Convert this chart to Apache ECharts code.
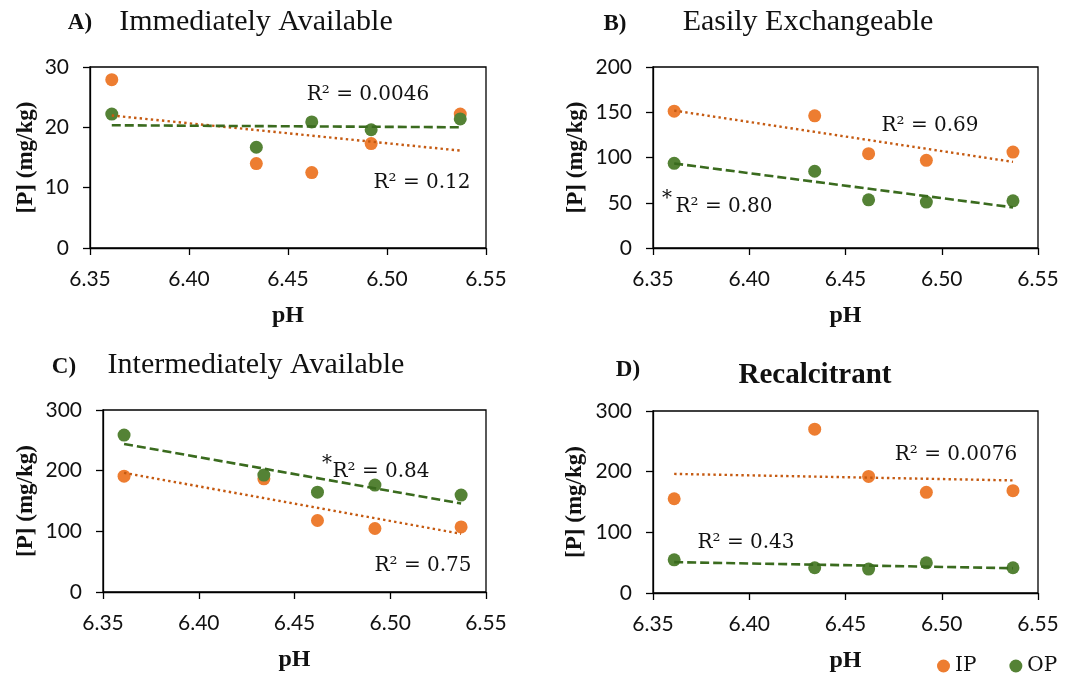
<!DOCTYPE html>
<html>
<head>
<meta charset="utf-8">
<script src="https://cdn.jsdelivr.net/npm/echarts@6/dist/echarts.min.js"></script>
<style>
  html, body { margin: 0; padding: 0; background: #fff; }
  #chart { width: 1065px; height: 675px; }
</style>
</head>
<body>
<div id="chart"></div>
<script>
// Soil pH of the five sites
const pH = [6.361, 6.434, 6.462, 6.492, 6.537];

// Phosphorus pools, inorganic (IP) and organic (OP), mg/kg
const immediateIP = [27.9, 14.0, 12.5, 17.3, 22.2];
const immediateOP = [22.2, 16.7, 20.9, 19.6, 21.4];
const exchangeIP = [151.2, 146.0, 104.2, 96.9, 106.0];
const exchangeOP = [93.6, 84.8, 53.2, 50.7, 52.1];
const intermediateIP = [191.0, 186.6, 117.9, 104.7, 107.3];
const intermediateOP = [258.7, 192.7, 164.6, 176.2, 159.7];
const recalcitrantIP = [155.4, 270.0, 192.2, 166.0, 168.6];
const recalcitrantOP = [54.7, 41.6, 39.4, 49.8, 41.6];

// Panel letters, titles and y-axis ranges
const panelLetters = ['A)', 'B)', 'C)', 'D)'];
const panelTitles = ['Immediately Available', 'Easily Exchangeable', 'Intermediately Available', 'Recalcitrant'];
const yMax = [30, 200, 300, 300];
const yStep = [10, 50, 100, 100];

// Coefficient of determination labels for each fit (IP, OP); '*' marks significant fits
const r2IP = ['R\u00B2 = 0.12', 'R\u00B2 = 0.69', 'R\u00B2 = 0.75', 'R\u00B2 = 0.0076'];
const r2OP = ['R\u00B2 = 0.0046', 'R\u00B2 = 0.80', 'R\u00B2 = 0.84', 'R\u00B2 = 0.43'];
const sigOP = [false, true, true, false];

const ipSets = [immediateIP, exchangeIP, intermediateIP, recalcitrantIP];
const opSets = [immediateOP, exchangeOP, intermediateOP, recalcitrantOP];

const ORANGE = '#ED7D31';
const GREEN = '#548235';
const IP_TREND = '#C55A11';
const OP_TREND = '#3A6B1E';
const SERIF = '"Liberation Serif", "Times New Roman", serif';
const WIDE_SERIF = '"DejaVu Serif", serif';
const SANS = 'Lato, "Open Sans", sans-serif';
const INK = '#111';

// Least-squares line through the points, drawn across the data range
function trend(xs, ys) {
  const n = xs.length;
  const mx = xs.reduce((a, b) => a + b, 0) / n;
  const my = ys.reduce((a, b) => a + b, 0) / n;
  let sxy = 0, sxx = 0;
  for (let i = 0; i < n; i++) {
    sxy += (xs[i] - mx) * (ys[i] - my);
    sxx += (xs[i] - mx) * (xs[i] - mx);
  }
  const b = sxy / sxx;
  const a = my - b * mx;
  const x0 = Math.min(...xs), x1 = Math.max(...xs);
  return [[x0, a + b * x0], [x1, a + b * x1]];
}

// Plot-area boxes for the 2x2 layout
const grids = [
  { left: 90, top: 67, width: 396, height: 181 },
  { left: 653, top: 67, width: 385, height: 181 },
  { left: 103, top: 410, width: 383, height: 182 },
  { left: 653, top: 411, width: 385, height: 182 }
];
const yNameGap = [52, 65, 65, 66];

const xAxes = [], yAxes = [], series = [];
grids.forEach((g, i) => {
  xAxes.push({
    gridIndex: i, type: 'value', min: 6.35, max: 6.55, interval: 0.05,
    name: 'pH', nameLocation: 'middle', nameGap: 56,
    nameTextStyle: { fontFamily: SERIF, fontWeight: 'bold', fontSize: 24, color: INK },
    axisLine: { lineStyle: { color: '#000', width: 1.3 } },
    axisTick: { show: true, length: 7, lineStyle: { color: '#000', width: 1.3 } },
    axisLabel: { fontFamily: SANS, fontSize: 21, color: INK, margin: 21,
                 formatter: v => v.toFixed(2) },
    splitLine: { show: false }
  });
  yAxes.push({
    gridIndex: i, type: 'value', min: 0, max: yMax[i], interval: yStep[i],
    name: '[P] (mg/kg)', nameLocation: 'middle', nameGap: yNameGap[i], nameRotate: 90,
    nameTextStyle: { fontFamily: SERIF, fontWeight: 'bold', fontSize: 23, color: INK },
    axisLine: { show: true, lineStyle: { color: '#000', width: 1.3 } },
    axisTick: { show: true, length: 7, lineStyle: { color: '#000', width: 1.3 } },
    axisLabel: { fontFamily: SANS, fontSize: 21, color: INK, margin: 21 },
    splitLine: { show: false }
  });
  const ip = ipSets[i], op = opSets[i];
  series.push({
    name: 'IP', type: 'scatter', xAxisIndex: i, yAxisIndex: i, symbolSize: 13,
    itemStyle: { color: ORANGE, opacity: 1 }, z: 2,
    data: pH.map((x, k) => [x, ip[k]])
  });
  series.push({
    name: 'OP', type: 'scatter', xAxisIndex: i, yAxisIndex: i, symbolSize: 13,
    itemStyle: { color: GREEN, opacity: 1 }, z: 3,
    data: pH.map((x, k) => [x, op[k]])
  });
  series.push({
    name: 'IP fit', type: 'line', xAxisIndex: i, yAxisIndex: i, symbol: 'none', z: 4,
    lineStyle: { color: IP_TREND, width: 2.4, type: [2.4, 3.2] },
    data: trend(pH, ip), silent: true
  });
  series.push({
    name: 'OP fit', type: 'line', xAxisIndex: i, yAxisIndex: i, symbol: 'none', z: 5,
    lineStyle: { color: OP_TREND, width: 2.6, type: [9, 4] },
    data: trend(pH, op), silent: true
  });
});

// Titles and fit annotations
const txt = (x, y, text, opts) => ({
  type: 'text', x: x, y: y, z: 10,
  style: Object.assign({ text: text, fontFamily: SERIF, fontSize: 20, fill: INK,
                         textAlign: 'center', textVerticalAlign: 'middle' }, opts || {})
});
const r2Style = { fontFamily: WIDE_SERIF, fontSize: 20 };
const starStyle = { fontFamily: WIDE_SERIF, fontSize: 20 };
const graphic = [
  txt(80, 23, panelLetters[0], { fontWeight: 'bold', fontSize: 23 }),
  txt(256, 22, panelTitles[0], { fontSize: 30 }),
  txt(615, 24, panelLetters[1], { fontWeight: 'bold', fontSize: 23 }),
  txt(808, 22, panelTitles[1], { fontSize: 30 }),
  txt(64, 367, panelLetters[2], { fontWeight: 'bold', fontSize: 23 }),
  txt(256, 365, panelTitles[2], { fontSize: 30 }),
  txt(628, 370, panelLetters[3], { fontWeight: 'bold', fontSize: 23 }),
  txt(815, 376, panelTitles[3], { fontWeight: 'bold', fontSize: 29 }),

  txt(368, 95, r2OP[0], r2Style),
  txt(422, 183, r2IP[0], r2Style),
  txt(930, 126, r2IP[1], r2Style),
  txt(724, 207, r2OP[1], r2Style),
  txt(381, 472, r2OP[2], r2Style),
  txt(423, 566, r2IP[2], r2Style),
  txt(956, 455, r2IP[3], r2Style),
  txt(746, 543, r2OP[3], r2Style)
];
if (sigOP[1]) graphic.push(txt(667, 199, '*', starStyle));
if (sigOP[2]) graphic.push(txt(327, 464, '*', starStyle));

const chart = echarts.init(document.getElementById('chart'), null, { renderer: 'canvas' });
chart.setOption({
  backgroundColor: '#fff',
  animation: false,
  grid: grids.map(g => Object.assign({ show: true, borderColor: '#000', borderWidth: 1.3,
                                       backgroundColor: 'transparent' }, g)),
  xAxis: xAxes,
  yAxis: yAxes,
  series: series,
  legend: {
    data: ['IP', 'OP'], left: 932, top: 651, icon: 'circle',
    itemWidth: 13, itemHeight: 13, itemGap: 33,
    textStyle: { fontFamily: WIDE_SERIF, fontSize: 20, color: INK }
  },
  graphic: graphic
});
</script>
</body>
</html>
